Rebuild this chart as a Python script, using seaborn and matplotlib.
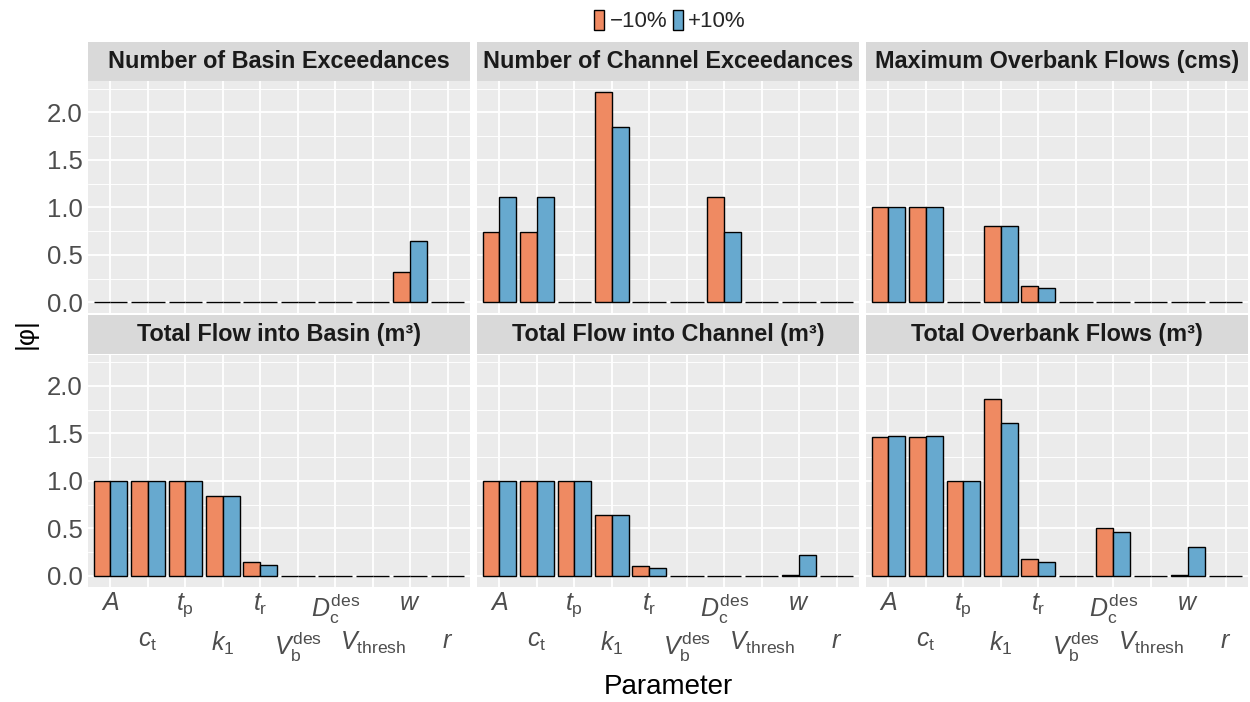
import numpy as np
import pandas as pd
import matplotlib
matplotlib.use('Agg')
import matplotlib.pyplot as plt
from matplotlib.patches import Patch
from matplotlib.ticker import MultipleLocator, FormatStrFormatter
import seaborn as sns

# ---------------- data ----------------
params = ['A', 'ct', 'tp', 'k1', 'tr', 'Vb', 'Dc', 'Vthresh', 'w', 'r']
param_labels = [r'$A$', r'$c_\mathrm{t}$', r'$t_\mathrm{p}$', r'$k_1$', r'$t_\mathrm{r}$',
                r'$V_\mathrm{b}^\mathrm{des}$', r'$D_\mathrm{c}^\mathrm{des}$',
                r'$V_\mathrm{thresh}$', r'$w$', r'$r$']
changes = ['\u221210%', '+10%']
facets = ['Number of Basin Exceedances', 'Number of Channel Exceedances',
          'Maximum Overbank Flows (cms)', 'Total Flow into Basin (m\u00b3)',
          'Total Flow into Channel (m\u00b3)', 'Total Overbank Flows (m\u00b3)']

basin_exc_minus = [0, 0, 0, 0, 0, 0, 0, 0, 0.32, 0]
basin_exc_plus = [0, 0, 0, 0, 0, 0, 0, 0, 0.645, 0]
channel_exc_minus = [0.74, 0.74, 0, 2.22, 0, 0, 1.11, 0, 0, 0]
channel_exc_plus = [1.11, 1.11, 0, 1.85, 0, 0, 0.74, 0, 0, 0]
max_overbank_minus = [1.0, 1.0, 0, 0.81, 0.175, 0, 0, 0, 0, 0]
max_overbank_plus = [1.0, 1.0, 0, 0.81, 0.15, 0, 0, 0, 0, 0]
flow_basin_minus = [1.0, 1.0, 1.0, 0.843, 0.143, 0, 0, 0, 0, 0]
flow_basin_plus = [1.0, 1.0, 1.0, 0.843, 0.119, 0, 0, 0, 0, 0]
flow_channel_minus = [1.0, 1.0, 1.0, 0.637, 0.10, 0, 0, 0, 0.008, 0]
flow_channel_plus = [1.0, 1.0, 1.0, 0.637, 0.087, 0, 0, 0, 0.217, 0]
total_overbank_minus = [1.466, 1.466, 1.0, 1.86, 0.175, 0, 0.50, 0, 0.01, 0]
total_overbank_plus = [1.474, 1.474, 1.0, 1.61, 0.147, 0, 0.46, 0, 0.31, 0]

series_minus = [basin_exc_minus, channel_exc_minus, max_overbank_minus,
                flow_basin_minus, flow_channel_minus, total_overbank_minus]
series_plus = [basin_exc_plus, channel_exc_plus, max_overbank_plus,
               flow_basin_plus, flow_channel_plus, total_overbank_plus]

rows = []
for f, mi, pl in zip(facets, series_minus, series_plus):
    for p, vm, vp in zip(params, mi, pl):
        rows.append((f, p, changes[0], vm))
        rows.append((f, p, changes[1], vp))
df = pd.DataFrame(rows, columns=['facet', 'param', 'change', 'phi'])

# ---------------- style ----------------
sns.set_theme(style='darkgrid')
plt.rcParams['font.family'] = ['Liberation Sans', 'DejaVu Sans']
plt.rcParams['mathtext.fontset'] = 'custom'
plt.rcParams['mathtext.rm'] = 'Liberation Sans'
plt.rcParams['mathtext.it'] = 'Liberation Sans:italic'
plt.rcParams['mathtext.bf'] = 'Liberation Sans:bold'

ORANGE = '#EF8A62'
BLUE = '#67A9CF'
W, H = 1250, 702
fig = plt.figure(figsize=(W / 100, H / 100), dpi=100)

col_left = [88, 477, 866]
pw = 382
row_top = [81, 354.5]
ph = 232
strip_h = 39


def rect(l, t, w, h):
    return [l / W, 1 - (t + h) / H, w / W, h / H]


for i, fac in enumerate(facets):
    r, c = divmod(i, 3)
    ax = fig.add_axes(rect(col_left[c], row_top[r], pw, ph))
    sub = df[df['facet'] == fac]
    sns.barplot(data=sub, x='param', y='phi', hue='change', order=params,
                hue_order=changes, palette=[ORANGE, BLUE], width=0.9,
                saturation=1, edgecolor='black', linewidth=1.0,
                errorbar=None, legend=False, ax=ax)
    ax.set_facecolor('#EBEBEB')
    ax.set_xlim(-0.6, 9.6)
    ax.set_ylim(-0.111, 2.331)
    ax.yaxis.set_major_locator(MultipleLocator(0.5))
    ax.yaxis.set_minor_locator(MultipleLocator(0.25))
    ax.yaxis.set_major_formatter(FormatStrFormatter('%.1f'))
    ax.set_axisbelow(True)
    ax.grid(which='major', color='white', linewidth=1.3)
    ax.grid(which='minor', axis='y', color='white', linewidth=0.65)
    ax.grid(which='minor', axis='x', visible=False)
    for s in ax.spines.values():
        s.set_visible(False)
    ax.set_xlabel('')
    ax.set_ylabel('')
    ax.tick_params(axis='both', which='major', length=2.4, width=0.8,
                   color='#333333', labelcolor='#4D4D4D', pad=1.5)
    ax.tick_params(axis='both', which='minor', length=0)
    ax.tick_params(axis='y', labelsize=18.5)
    ax.tick_params(axis='x', labelsize=18)
    ax.set_xticks(range(len(params)))
    if r == 1:
        ax.set_xticklabels(param_labels)
        for j, tick in enumerate(ax.xaxis.get_major_ticks()):
            tick.set_pad(1.2 if j % 2 == 0 else 28.5)
    else:
        ax.set_xticklabels([])
        ax.tick_params(axis='x', length=0)
    if c != 0:
        ax.set_yticklabels([])
        ax.tick_params(axis='y', length=0)

    sax = fig.add_axes(rect(col_left[c], row_top[r] - strip_h, pw, strip_h))
    sax.set_facecolor('#D9D9D9')
    sax.set_xticks([])
    sax.set_yticks([])
    sax.grid(False)
    for s in sax.spines.values():
        s.set_visible(False)
    sax.text(0.5, 0.5, fac, ha='center', va='center', fontsize=16.8,
             fontweight='bold', color='#1A1A1A', transform=sax.transAxes)

fig.text(26 / W, 1 - 334 / H, '|\u03c6|', rotation=90, ha='center', va='center',
         fontsize=19, color='black')
fig.text(668 / W, 1 - 694 / H, 'Parameter', ha='center', va='baseline',
         fontsize=20, color='black')

handles = [Patch(facecolor=ORANGE, edgecolor='black', linewidth=1.0, label=changes[0]),
           Patch(facecolor=BLUE, edgecolor='black', linewidth=1.0, label=changes[1])]
fig.legend(handles=handles, loc='center', bbox_to_anchor=(670 / W, 1 - 21 / H),
           ncol=2, frameon=False, fontsize=16, handlelength=0.45, handleheight=1.0,
           handletextpad=0.25, columnspacing=0.25, borderpad=0, borderaxespad=0)

fig.savefig('out.png', dpi=100, facecolor='white')
